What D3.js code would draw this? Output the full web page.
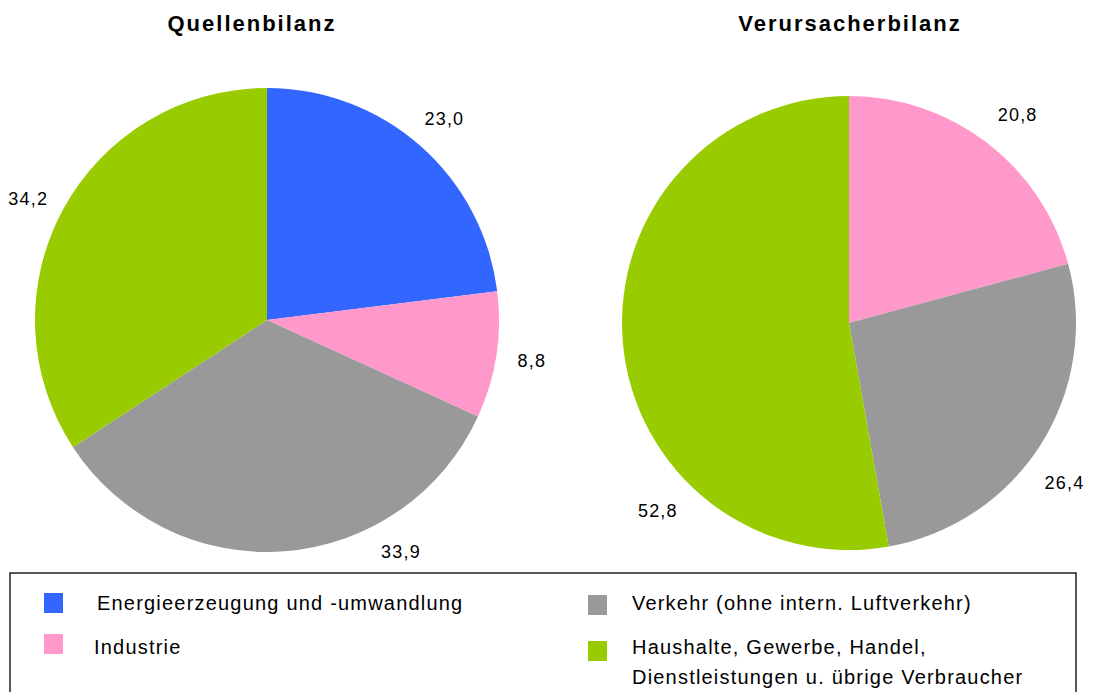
<!DOCTYPE html>
<html>
<head>
<meta charset="utf-8">
<script src="https://cdn.jsdelivr.net/npm/d3@7"></script>
<style>
  body { margin: 0; background: #fff; }
  svg { display: block; font-family: "Liberation Sans", Arial, sans-serif; }
</style>
</head>
<body>
<div id="chart"></div>
<script>
// sectors, in drawing order (clockwise from 12 o'clock)
const categories = ["Energieerzeugung und -umwandlung", "Industrie", "Verkehr (ohne intern. Luftverkehr)", "Haushalte, Gewerbe, Handel, Dienstleistungen u. übrige Verbraucher"];
const colors = ["#3366ff", "#ff99cc", "#999999", "#99cc00"];

const titles = ["Quellenbilanz", "Verursacherbilanz"];
const quellenValues = [23.0, 8.8, 33.9, 34.2];
const verursacherValues = [0.0, 20.8, 26.4, 52.8];

const width = 1096, height = 692;

const svg = d3.select("#chart").append("svg")
    .attr("width", width)
    .attr("height", height);

const de = d3.formatLocale({decimal: ",", thousands: ".", grouping: [3], currency: ["", " €"]});
const fmt = de.format(".1f");

// layout for each pie (labelAngle: excel "best fit" moved some labels)
const pies = [
    {title: titles[0], values: quellenValues, cx: 267, cy: 320, r: 232, titleX: 252,
     labelR: 268, labelAngle: {2: 150, 3: 297}},
    {title: titles[1], values: verursacherValues, cx: 849, cy: 323, r: 227, titleX: 850,
     labelR: 268, labelAngle: {1: 39, 2: 126.5, 3: 225.5}}
];

const pie = d3.pie().sort(null).value(d => d);

pies.forEach(p => {
    const g = svg.append("g").attr("transform", `translate(${p.cx},${p.cy})`);
    const arc = d3.arc().innerRadius(0).outerRadius(p.r);
    const arcs = pie(p.values);

    g.selectAll("path")
        .data(arcs)
        .join("path")
        .attr("d", arc)
        .attr("fill", (d, i) => colors[i]);

    g.selectAll("text")
        .data(arcs.filter(d => d.value > 0))
        .join("text")
        .attr("transform", d => {
            const i = d.index;
            let a = (d.startAngle + d.endAngle) / 2;
            if (p.labelAngle[i] !== undefined) a = p.labelAngle[i] * Math.PI / 180;
            return `translate(${Math.sin(a) * p.labelR},${-Math.cos(a) * p.labelR})`;
        })
        .attr("text-anchor", "middle")
        .attr("dy", "0.35em")
        .style("font-size", "18px")
        .style("letter-spacing", "1.2px")
        .text(d => fmt(d.value));

    svg.append("text")
        .attr("x", p.titleX)
        .attr("y", 23)
        .attr("dy", "0.35em")
        .attr("text-anchor", "middle")
        .style("font-size", "22px")
        .style("letter-spacing", "2px")
        .style("font-weight", "bold")
        .text(p.title);
});

// legend box
svg.append("rect")
    .attr("x", 10).attr("y", 573)
    .attr("width", 1066).attr("height", 140)
    .attr("fill", "none")
    .attr("stroke", "#222")
    .attr("stroke-width", 1.5);

const legendItems = [
    {i: 0, sx: 44, sy: 593, tx: 97, ty: 603, lines: ["Energieerzeugung und -umwandlung"]},
    {i: 1, sx: 44, sy: 634, tx: 94, ty: 647, lines: ["Industrie"]},
    {i: 2, sx: 588, sy: 595, tx: 632, ty: 603, lines: ["Verkehr (ohne intern. Luftverkehr)"]},
    {i: 3, sx: 588, sy: 641, tx: 632, ty: 647, lines: ["Haushalte, Gewerbe, Handel,", "Dienstleistungen u. übrige Verbraucher"]}
];

const leg = svg.append("g");
legendItems.forEach(it => {
    leg.append("rect")
        .attr("x", it.sx).attr("y", it.sy)
        .attr("width", 19).attr("height", 20)
        .attr("fill", colors[it.i]);
    const t = leg.append("text")
        .attr("x", it.tx).attr("y", it.ty)
        .style("font-size", "20px")
        .style("letter-spacing", "1.2px");
    it.lines.forEach((l, k) => {
        t.append("tspan")
            .attr("x", it.tx)
            .attr("dy", k === 0 ? "0.35em" : "30px")
            .text(l);
    });
});
</script>
</body>
</html>
